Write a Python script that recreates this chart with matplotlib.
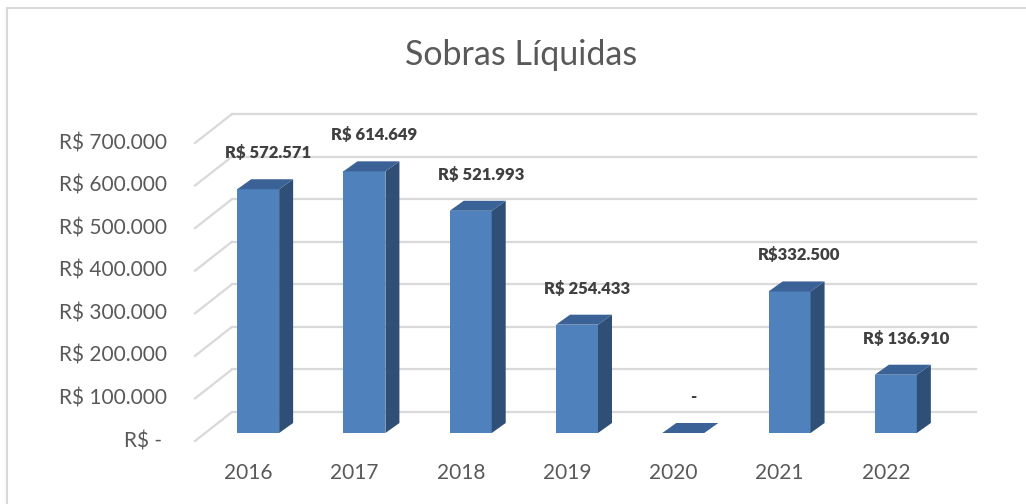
import matplotlib.pyplot as plt
from matplotlib.patches import Polygon, Rectangle
from matplotlib.lines import Line2D

plt.rcParams['font.family'] = ['Lato', 'DejaVu Sans']

years = ['2016', '2017', '2018', '2019', '2020', '2021', '2022']
sobras = [572571, 614649, 521993, 254433, 0, 332500, 136910]
labels = ['R$ 572.571', 'R$ 614.649', 'R$ 521.993', 'R$ 254.433', '-',
          'R$332.500', 'R$ 136.910']
yticks = [0, 100000, 200000, 300000, 400000, 500000, 600000, 700000]
ytick_labels = ['R$ - ', 'R$ 100.000', 'R$ 200.000', 'R$ 300.000',
                'R$ 400.000', 'R$ 500.000', 'R$ 600.000', 'R$ 700.000']

front = '#4F81BD'
side = '#2F4F76'
top = '#3A6296'
grid = '#D9D9D9'
text = '#595959'

W, H = 1026, 504
fig = plt.figure(figsize=(W / 100, H / 100), dpi=100)
# front plane of the 3d box, in pixels
ax = fig.add_axes([195 / W, 63 / H, 744 / W, 298 / H])
ax.set_xlim(-0.5, 6.5)
ax.set_ylim(0, 700000)
ax.axis('off')


def px(dx, dy):
    # pixel offset -> data offset
    inv = ax.transData.inverted()
    x0, y0 = inv.transform((0, 0))
    x1, y1 = inv.transform((dx, dy))
    return x1 - x0, y1 - y0


# back wall gridlines + diagonal lines on side wall
wx, wy = px(37, 29)
for v in yticks:
    ax.plot([-0.5, -0.5 + wx], [v, v + wy], color=grid, lw=1.6,
            clip_on=False, zorder=1)
    ax.plot([-0.5 + wx, 6.5 + wx], [v + wy, v + wy], color=grid, lw=1.6,
            clip_on=False, zorder=1)

# y tick labels on the front plane
for v, lab in zip(yticks, ytick_labels):
    ax.text(-0.5 - px(28, 0)[0], v, lab, ha='right', va='center',
            fontsize=15, color=text)

# x labels
for i, yr in enumerate(years):
    ax.text(i, -px(0, 32)[1], yr, ha='center', va='center', fontsize=15,
            color=text)

# 3d bars
bw = 0.395
ox, oy = px(10, 8)     # bar position inside the box depth
dx, dy = px(14, 10)    # bar depth
for i, v in enumerate(sobras):
    x0 = i - bw / 2 + ox
    x1 = i + bw / 2 + ox
    y0 = oy
    y1 = oy + v
    ax.add_patch(Rectangle((x0, y0), bw, v, facecolor=front,
                           edgecolor='none', clip_on=False, zorder=3))
    ax.add_patch(Polygon([(x1, y0), (x1 + dx, y0 + dy), (x1 + dx, y1 + dy),
                          (x1, y1)], closed=True, facecolor=side,
                         edgecolor='none', clip_on=False, zorder=3))
    ax.add_patch(Polygon([(x0, y1), (x1, y1), (x1 + dx, y1 + dy),
                          (x0 + dx, y1 + dy)], closed=True, facecolor=top,
                         edgecolor='none', clip_on=False, zorder=3))
    lx, ly = px(10, 36)
    ax.text(i + ox + lx, y1 + ly, labels[i], ha='center', va='center',
            fontsize=12, fontweight='heavy', color='#404040', zorder=4)

fig.text(521 / W, 1 - 55 / H, 'Sobras Líquidas', ha='center', va='center',
         fontsize=24.5, color=text)

# chart border (only left and top visible)
fig.add_artist(Line2D([6.5 / W, 6.5 / W], [0, 1 - 7.5 / H],
                      transform=fig.transFigure, color=grid, lw=1.5))
fig.add_artist(Line2D([6.5 / W, 1], [1 - 7.5 / H, 1 - 7.5 / H],
                      transform=fig.transFigure, color=grid, lw=1.5))

fig.savefig('out.png', dpi=100)
